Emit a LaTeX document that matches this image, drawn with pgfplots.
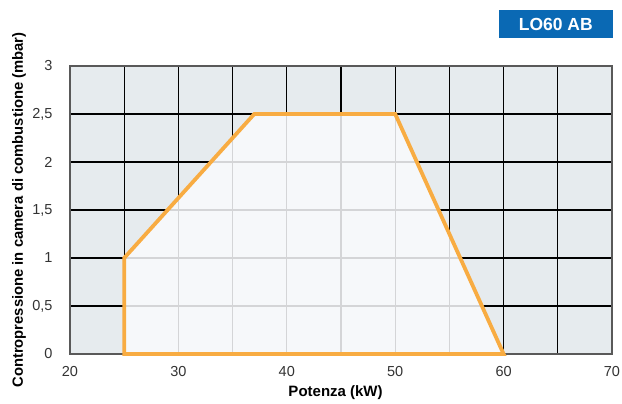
\documentclass[border=0pt]{standalone}
\usepackage{pgfplots}
\pgfplotsset{compat=1.18}
\usepackage{fontspec}
\setmainfont{Liberation Sans}
\definecolor{bgpanel}{HTML}{E6EBEE}
\definecolor{inpanel}{HTML}{F6F8FA}
\definecolor{orangeln}{HTML}{F8AC42}
\definecolor{gridin}{HTML}{D4D5D7}
\definecolor{boxblue}{HTML}{0A69B4}
\definecolor{ticktxt}{HTML}{333333}

\begin{document}
\begin{tikzpicture}
\useasboundingbox (-70pt,-50pt) rectangle (552pt,354pt);
\begin{axis}[
  at={(0,0)}, anchor=south west,
  width=542pt, height=288pt, scale only axis,
  xmin=20, xmax=70, ymin=0, ymax=3,
  xtick={20,25,...,70},
  xticklabels={20,,30,,40,,50,,60,,70},
  ytick={0,0.5,...,3},
  yticklabels={0,{0,5},1,{1,5},2,{2,5},3},
  grid=major,
  major grid style={black, line width=1.3pt},
  axis line style={draw=black!65, line width=1.2pt},
  major tick length=0pt,
  axis background/.style={fill=bgpanel},
  ticklabel style={font=\fontsize{14.5}{16}\selectfont, text=ticktxt},
  xticklabel style={anchor=center, yshift=-18pt},
  yticklabel style={anchor=east, xshift=-14pt},
  xlabel={\textbf{Potenza (kW)}},
  ylabel={\textbf{Contropressione in camera di combustione (mbar)}},
  xlabel style={font=\fontsize{15}{17}\selectfont, at={(axis description cs:0.49,-0.135)}, anchor=center},
  ylabel style={font=\fontsize{14.8}{17}\selectfont, at={(axis description cs:-0.094,0.5)}, anchor=center},
  clip=false,
  every axis plot/.append style={forget plot},
]
% operating area
\addplot[fill=inpanel, draw=none] coordinates {
  (25,0) (25,1) (37,2.5) (50,2.5) (60,0) (25,0)
};
% light grid inside the area
\addplot[gridin, line width=1.3pt] coordinates {(30,0) (30,1.625)};
\addplot[gridin, line width=1.3pt] coordinates {(35,0) (35,2.25)};
\addplot[gridin, line width=1.3pt] coordinates {(40,0) (40,2.5)};
\addplot[gridin, line width=1.3pt] coordinates {(45,0) (45,2.5)};
\addplot[gridin, line width=1.3pt] coordinates {(50,0) (50,2.5)};
\addplot[gridin, line width=1.3pt] coordinates {(55,0) (55,1.25)};
\addplot[gridin, line width=1.3pt] coordinates {(25,0.5) (58,0.5)};
\addplot[gridin, line width=1.3pt] coordinates {(25,1) (56,1)};
\addplot[gridin, line width=1.3pt] coordinates {(29,1.5) (54,1.5)};
\addplot[gridin, line width=1.3pt] coordinates {(33,2) (52,2)};
% outline
\addplot[orangeln, line width=3.8pt, line join=miter] coordinates {
  (25,0) (25,1) (37,2.5) (50,2.5) (60,0) (25,0)
} -- cycle;
\end{axis}
\node[fill=boxblue, text=white, minimum width=114pt, minimum height=28pt,
      inner sep=0pt, font=\fontsize{17.5}{19}\selectfont\bfseries, anchor=north east]
  at (543pt,344pt) {LO60 AB};
\end{tikzpicture}
\end{document}
